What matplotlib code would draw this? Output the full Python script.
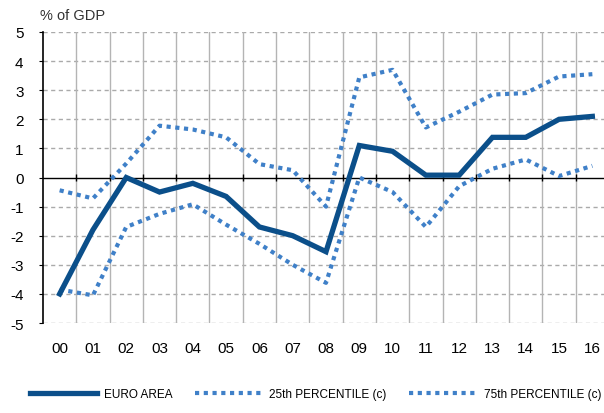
import numpy as np
import matplotlib.pyplot as plt

plt.rcParams['font.family'] = ['Liberation Sans', 'DejaVu Sans']
plt.rcParams['axes.unicode_minus'] = False

years = ["00", "01", "02", "03", "04", "05", "06", "07", "08",
         "09", "10", "11", "12", "13", "14", "15", "16"]
euro_area = [-4.0, -1.8, 0.0, -0.5, -0.2, -0.65, -1.7, -2.0, -2.55,
             1.1, 0.9, 0.08, 0.08, 1.38, 1.38, 2.0, 2.1]
p25 = [-3.85, -4.05, -1.7, -1.25, -0.92, -1.62, -2.28, -3.0, -3.62,
       0.0, -0.5, -1.7, -0.3, 0.3, 0.62, 0.05, 0.4]
p75 = [-0.44, -0.72, 0.48, 1.78, 1.65, 1.38, 0.46, 0.25, -1.0,
       3.44, 3.7, 1.72, 2.26, 2.85, 2.9, 3.47, 3.55]

dark = "#0b4f8a"
light = "#3f80c8"

fig = plt.figure(figsize=(6.04, 4.14), dpi=100)
ax = fig.add_axes([43/604, 1-324/414, 1-43/604, (324-33)/414])

x = np.arange(len(years))

# grid
for yv in range(-5, 6):
    if yv != 0:
        ax.axhline(yv, color="#aaaaaa", lw=1, ls=(0, (3, 2.5)), zorder=1)
for xv in np.arange(0.5, len(years), 1):
    ax.axvline(xv, color="#b4b4b4", lw=1, zorder=1)
ax.axhline(0, color="black", lw=1, zorder=2)
ax.vlines(np.arange(0.5, len(years), 1), -0.12, 0.12, color="black", lw=1, zorder=2)

ax.plot(x, euro_area, color=dark, lw=3.8, solid_joinstyle="miter", label="EURO AREA", zorder=4)
ax.plot(x, p25, color=light, lw=3, ls=(0, (1, 1.1)), label="25th PERCENTILE (c)", zorder=3)
ax.plot(x, p75, color=light, lw=3, ls=(0, (1, 1.1)), label="75th PERCENTILE (c)", zorder=3)

ax.set_xlim(-0.5, 16.35)
ax.set_ylim(-5, 5)
ax.set_yticks(range(-5, 6))
ax.set_xticks(x)
ax.set_xticklabels(years)
for s in ["top", "right", "bottom"]:
    ax.spines[s].set_visible(False)
ax.spines["left"].set_color("black")
ax.spines["left"].set_linewidth(1.2)
ax.tick_params(axis="x", length=0, pad=13, labelsize=11)
ax.tick_params(axis="y", length=3, pad=11, labelsize=11)

fig.text(40/604, 1-16/414, "% of GDP", fontsize=10.5, color="#333333", va="center", ha="left")

fig.legend(loc="center", bbox_to_anchor=(0.522, 1-395/414), ncol=3, frameon=False,
           handlelength=5.7, handletextpad=0.6, columnspacing=1.9,
           prop={"size": 8.5})

fig.savefig("out.png", dpi=100)
